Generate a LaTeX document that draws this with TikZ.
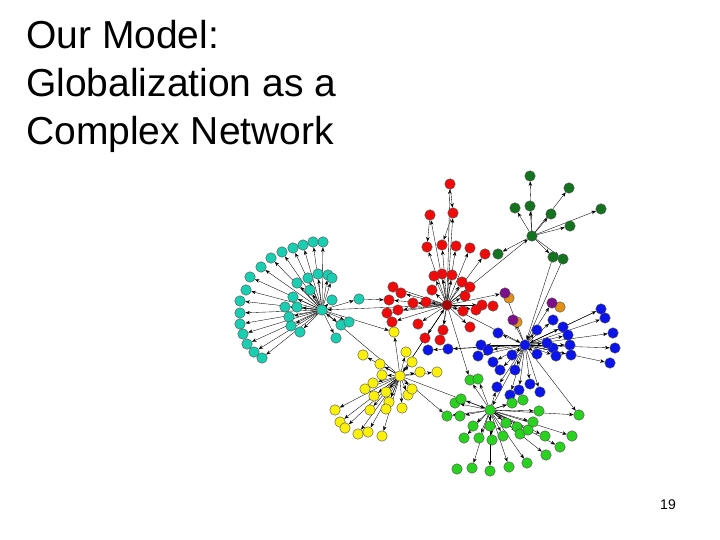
\documentclass[tikz,border=0pt]{standalone}
\usepackage{fontspec}
\setmainfont{Liberation Sans}
\usetikzlibrary{arrows.meta,backgrounds}
\begin{document}
\begin{tikzpicture}[x=1pt,y=-1pt,
  nd/.style={circle,draw=black!70,line width=0.4pt,minimum size=10.5pt,inner sep=0pt},
  ed/.style={-{Stealth[length=4.5pt,width=3.5pt]},line width=0.35pt,black},
  ttl/.style={anchor=base west,font=\fontsize{39}{39}\selectfont,inner sep=0pt}]
\useasboundingbox (0,0) rectangle (720,540);
\definecolor{cteal}{RGB}{26,206,178}
\definecolor{cred}{RGB}{240,10,10}
\definecolor{cdg}{RGB}{20,115,30}
\definecolor{cblue}{RGB}{10,20,235}
\definecolor{cyel}{RGB}{250,240,10}
\definecolor{cgr}{RGB}{40,210,30}
\definecolor{cpur}{RGB}{125,15,140}
\definecolor{cor}{RGB}{225,145,20}
\node[ttl] (l1) at (26,49) {Our Model:};
\node[ttl] (l2) at (26,97) {Globalization as a};
\node[ttl] (l3) at (26,145) {Complex Network};
\node[anchor=base,font=\fontsize{14}{14}\selectfont,inner sep=0pt] (pg) at (668,509) {19};
% hubs
\node[nd,fill=cteal] (th) at (322,310) {};
\node[nd,fill=cred!70!black] (rh) at (447,305) {};
\node[nd,fill=cdg] (gh) at (532,236) {};
\node[nd,fill=cblue] (bh) at (525,345) {};
\node[nd,fill=cyel] (yh) at (400,376) {};
\node[nd,fill=cgr] (ch) at (490,410) {};
% teal
\foreach \p [count=\i] in {(323,242),(313,242),(303,245),(293,248),(282,252),(271,258),(261,267),(250,277),(246,290),(240,301),(240,313),(240,324),(243,334),(247,344),(254,352),(262,358),(318,274),(328,275),(308,278),(297,283),(293,297),(297,307),(289,317),(291,326),(300,332),(310,290),(332,278),(341,325),(336,338),(349,322),(359,299),(285,307),(332,300)}
  \node[nd,fill=cteal] (t\i) at \p {};
% red
\foreach \p [count=\i] in {(450,184),(430,215),(453,213),(427,247),(442,245),(456,246),(470,248),(485,254),(442,274),(434,276),(452,275),(462,282),(470,287),(432,290),(465,296),(493,306),(482,305),(426,302),(463,311),(476,310),(470,327),(443,330),(425,338),(440,340),(393,287),(401,293),(389,300),(387,313),(392,322),(413,303),(418,324),(398,310)}
  \node[nd,fill=cred] (r\i) at \p {};
% dark green
\foreach \p [count=\i] in {(530,176),(569,188),(515,208),(530,206),(551,214),(570,226),(601,209),(498,254),(553,257),(563,259)}
  \node[nd,fill=cdg] (g\i) at \p {};
% purple / orange
\node[nd,fill=cor] (o1) at (509,298) {};
\node[nd,fill=cpur] (p1) at (505,293) {};
\node[nd,fill=cor] (o2) at (560,307) {};
\node[nd,fill=cpur] (p2) at (552,303) {};
\node[nd,fill=cor] (o3) at (517,322) {};
\node[nd,fill=cpur] (p3) at (513,320) {};
% blue
\foreach \p [count=\i] in {(601,309),(605,318),(613,333),(615,348),(610,363),(553,320),(563,327),(568,335),(570,345),(571,355),(553,348),(537,330),(547,343),(556,356),(537,354),(512,355),(498,333),(481,345),(478,356),(493,362),(500,370),(515,370),(448,349),(428,350),(497,387),(519,390),(530,384),(540,392),(510,395),(488,350)}
  \node[nd,fill=cblue] (b\i) at \p {};
% yellow
\foreach \p [count=\i] in {(394,332),(406,352),(363,355),(380,364),(412,362),(420,372),(437,372),(373,383),(382,375),(365,389),(386,392),(374,396),(408,395),(402,408),(389,402),(386,409),(370,410),(412,389),(335,410),(340,422),(345,428),(358,434),(368,432),(382,436)}
  \node[nd,fill=cyel] (y\i) at \p {};
% green
\foreach \p [count=\i] in {(470,380),(478,379),(455,403),(461,399),(447,416),(460,416),(579,415),(473,426),(490,426),(506,423),(517,427),(533,422),(539,411),(523,400),(512,403),(503,436),(479,438),(464,438),(492,440),(520,434),(528,430),(545,436),(572,436),(560,447),(546,455),(527,463),(509,467),(490,471),(472,468),(457,469)}
  \node[nd,fill=cgr] (c\i) at \p {};
\begin{scope}[on background layer]
\foreach \i in {1,...,33} \draw[ed] (th) -- (t\i);
\foreach \i in {1,...,32} \draw[ed] (rh) -- (r\i);
\foreach \i in {1,...,10} \draw[ed] (gh) -- (g\i);
\foreach \i in {1,...,30} \draw[ed] (bh) -- (b\i);
\foreach \i in {1,...,24} \draw[ed] (yh) -- (y\i);
\foreach \i in {1,...,29} \draw[ed] (ch) -- (c\i);
\foreach \a/\b in {rh/th,t31/r27,rh/gh,rh/bh,bh/ch,yh/rh,yh/th,yh/ch,bh/p1,bh/p2,bh/p3,g10/bh,g9/bh,rh/p1,p1/o1,p2/o2,p3/o3,r1/r3,r2/r4,r3/r5,b1/bh,ch/b25,yh/c5,rh/c1,rh/yh,bh/c7,th/y1}
  \draw[ed] (\a) -- (\b);
\end{scope}
\end{tikzpicture}
\end{document}
